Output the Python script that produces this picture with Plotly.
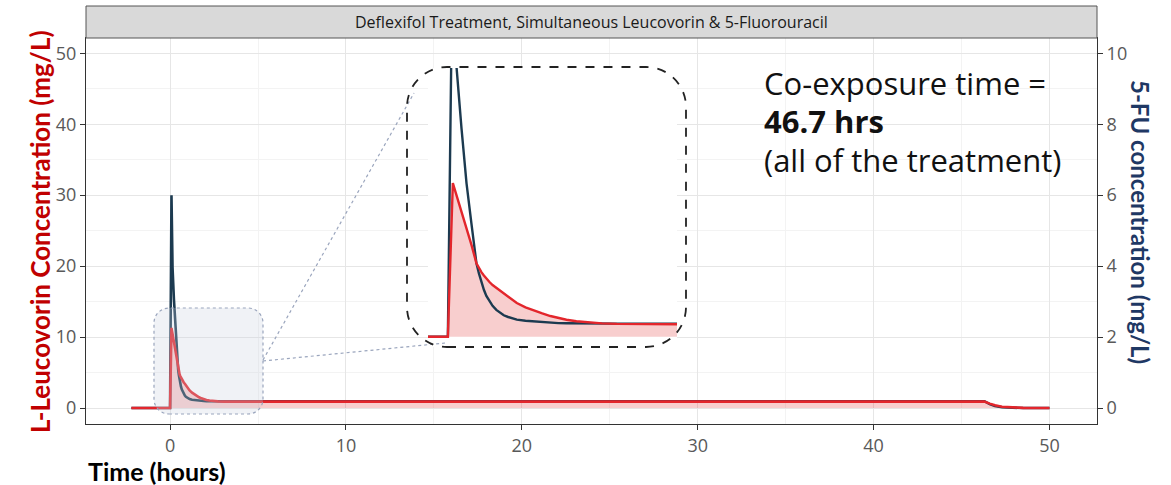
import plotly.graph_objects as go

# ---------------- data ----------------
time_h = [-2.2, 0.0, 0.08, 0.14, 0.22, 0.30, 0.38, 0.46,
          0.50, 0.54, 0.58, 0.62, 0.67, 0.72, 0.78, 0.84,
          0.90, 0.97, 1.04, 1.11, 1.25, 1.38, 1.52, 1.65,
          1.78, 1.91, 2.07, 2.24, 2.48, 2.72, 3.1, 3.69,
          10, 20, 30, 40, 46.3, 46.6, 46.9, 47.3,
          47.8, 48.5, 50.0]
leucovorin_mgL = [0, 0, 11.3, 10.4, 9.2, 8.1, 6.75, 5.4,
                  5.05, 4.75, 4.5, 4.27, 4.02, 3.8, 3.6, 3.43,
                  3.2, 2.95, 2.7, 2.48, 2.16, 1.93, 1.71, 1.52,
                  1.37, 1.25, 1.14, 1.06, 0.98, 0.94, 0.91, 0.9,
                  0.9, 0.9, 0.9, 0.9, 0.9, 0.62, 0.38, 0.18,
                  0.07, 0.02, 0.0]
fu_mgL = [0, 0, 6.0, 3.96, 3.06, 2.26, 1.66, 1.08,
          0.93, 0.8, 0.69, 0.6, 0.52, 0.455, 0.395, 0.35,
          0.315, 0.29, 0.268, 0.252, 0.235, 0.225, 0.215, 0.207,
          0.2, 0.197, 0.195, 0.193, 0.193, 0.193, 0.193, 0.193,
          0.193, 0.193, 0.193, 0.193, 0.193, 0.11, 0.055, 0.022,
          0.006, 0.0, 0.0]

x_ticks = [0, 10, 20, 30, 40, 50]
left_ticks = [0, 10, 20, 30, 40, 50]
right_ticks = [0, 2, 4, 6, 8, 10]

strip_title = "Deflexifol Treatment, Simultaneous Leucovorin & 5-Fluorouracil"
left_title = "L-Leucovorin Concentration (mg/L)"
right_title = "5-FU concentration (mg/L)"
x_title = "Time (hours)"
note_lines = ["Co-exposure time =", "<b>46.7 hrs</b>", "(all of the treatment)"]

# ---------------- styling ----------------
W, H = 1171, 485
ML, MR, MT, MB = 86, 74, 38, 61
PW, PH = W - ML - MR, H - MT - MB

RED = "#e3262c"
NAVY = "#1c3a50"
FILL = "rgba(228,60,60,0.25)"
GRID = "#e6e6e6"
MINOR = "#f3f3f3"
AX = "#333333"
TICKC = "#595959"

Y_LEFT = [-2.25, 52.15]
Y_RIGHT = [-0.45, 10.43]
INSET_X = [-0.32, 3.69]
INSET_Y = [-0.757, 19.76]
INSET_Y_FU = [-0.1514, 3.952]


def px(X):
    return (X - ML) / PW


def py(Y):
    return (H - MB - Y) / PH


def rr_path(X0, Y0, X1, Y1, r):
    k = 0.5523
    rx, ry = r / PW, r / PH
    xl, xr, yt, yb = px(X0), px(X1), py(Y0), py(Y1)
    return (f"M {xl+rx},{yb} L {xr-rx},{yb} "
            f"C {xr-rx+k*rx},{yb} {xr},{yb+ry-k*ry} {xr},{yb+ry} "
            f"L {xr},{yt-ry} "
            f"C {xr},{yt-ry+k*ry} {xr-rx+k*rx},{yt} {xr-rx},{yt} "
            f"L {xl+rx},{yt} "
            f"C {xl+rx-k*rx},{yt} {xl},{yt-ry+k*ry} {xl},{yt-ry} "
            f"L {xl},{yb+ry} "
            f"C {xl},{yb+ry-k*ry} {xl+rx-k*rx},{yb} {xl+rx},{yb} Z")


fig = go.Figure()

# main plot traces
fig.add_trace(go.Scatter(x=time_h, y=leucovorin_mgL, mode="lines", fill="tozeroy",
                         fillcolor=FILL, line=dict(width=0, color=RED),
                         hoverinfo="skip", showlegend=False, xaxis="x", yaxis="y"))
fig.add_trace(go.Scatter(x=time_h, y=fu_mgL, mode="lines", line=dict(color=NAVY, width=2.6),
                         showlegend=False, xaxis="x", yaxis="y2"))
fig.add_trace(go.Scatter(x=time_h, y=leucovorin_mgL, mode="lines", line=dict(color=RED, width=2.6),
                         showlegend=False, xaxis="x", yaxis="y5"))

# inset traces
fig.add_trace(go.Scatter(x=time_h, y=leucovorin_mgL, mode="lines", fill="tozeroy",
                         fillcolor=FILL, line=dict(width=0, color=RED),
                         hoverinfo="skip", showlegend=False, xaxis="x3", yaxis="y3"))
fig.add_trace(go.Scatter(x=time_h, y=fu_mgL, mode="lines", line=dict(color=NAVY, width=2.4),
                         showlegend=False, xaxis="x3", yaxis="y4"))
fig.add_trace(go.Scatter(x=time_h, y=leucovorin_mgL, mode="lines", line=dict(color=RED, width=2.4),
                         showlegend=False, xaxis="x3", yaxis="y6"))

tickfont = dict(family="Open Sans", size=18, color=TICKC)

fig.update_layout(
    width=W, height=H,
    margin=dict(l=ML, r=MR, t=MT, b=MB),
    paper_bgcolor="white", plot_bgcolor="white",
    xaxis=dict(range=[-4.78, 52.7], tickvals=x_ticks, showgrid=True, gridcolor=GRID,
               minor=dict(dtick=5, tick0=0, showgrid=True, gridcolor=MINOR),
               showline=True, mirror=True, linecolor=AX, linewidth=1,
               ticks="outside", ticklen=5, tickcolor=AX, tickfont=tickfont,
               zeroline=False),
    yaxis=dict(range=Y_LEFT, tickvals=left_ticks, showgrid=True, gridcolor=GRID,
               minor=dict(dtick=5, tick0=0, showgrid=True, gridcolor=MINOR),
               showline=True, mirror=True, linecolor=AX, linewidth=1,
               ticks="outside", ticklen=5, tickcolor=AX, tickfont=tickfont,
               zeroline=False),
    yaxis2=dict(range=Y_RIGHT, tickvals=right_ticks, overlaying="y", side="right",
                showgrid=False, zeroline=False, showline=True, linecolor=AX,
                ticks="outside", ticklen=5, tickcolor=AX, tickfont=tickfont),
    yaxis5=dict(range=Y_LEFT, overlaying="y", visible=False),
    xaxis3=dict(domain=[px(428), px(677)], range=INSET_X, anchor="y3",
                visible=False, fixedrange=True),
    yaxis3=dict(domain=[py(347), py(68)], range=INSET_Y, anchor="x3",
                visible=False, fixedrange=True),
    yaxis4=dict(range=INSET_Y_FU, overlaying="y3", anchor="x3",
                visible=False, fixedrange=True),
    yaxis6=dict(range=INSET_Y, overlaying="y3", anchor="x3",
                visible=False, fixedrange=True),
)

shapes = [
    # facet strip
    dict(type="rect", xref="paper", yref="paper", x0=0, x1=1, y0=1, y1=py(6),
         fillcolor="#d9d9d9", line=dict(color="#555555", width=1), layer="above"),
    # shaded zoom-source box
    dict(type="path", xref="paper", yref="paper", path=rr_path(154, 308, 263, 414, 15),
         fillcolor="rgba(200,208,224,0.28)", line=dict(color="#9aa5bd", width=1.2, dash="dot"),
         layer="above"),
    # connectors
    dict(type="line", xref="paper", yref="paper", x0=px(263), y0=py(360), x1=px(414), y1=py(93),
         line=dict(color="#9aa5bd", width=1.2, dash="dot")),
    dict(type="line", xref="paper", yref="paper", x0=px(263), y0=py(361), x1=px(445), y1=py(343),
         line=dict(color="#9aa5bd", width=1.2, dash="dot")),
    # inset border
    dict(type="path", xref="paper", yref="paper", path=rr_path(407, 67, 686, 347, 40),
         line=dict(color="#222222", width=1.8, dash="dash"), layer="above"),
]
fig.update_layout(shapes=shapes)

ann = [
    dict(text=strip_title, x=0.5, y=py(22), xref="paper", yref="paper", showarrow=False,
         xanchor="center", yanchor="middle", font=dict(family="Open Sans", size=16, color="#1a1a1a")),
    dict(text=f"<b>{left_title}</b>", x=px(40), y=py(232), xref="paper", yref="paper",
         showarrow=False, textangle=-90, xanchor="center", yanchor="middle",
         font=dict(family="Lato", size=26, color="#c00000")),
    dict(text=f"<b>{right_title}</b>", x=px(1141), y=py(222), xref="paper", yref="paper",
         showarrow=False, textangle=90, xanchor="center", yanchor="middle",
         font=dict(family="Lato", size=24, color="#1f3864")),
    dict(text=f"<b>{x_title}</b>", x=px(86), y=py(471), xref="paper", yref="paper",
         showarrow=False, xanchor="left", yanchor="middle",
         font=dict(family="Lato", size=25, color="#000000")),
]
for line, Y in zip(note_lines, [83, 121, 160]):
    ann.append(dict(text=line, x=px(762), y=py(Y), xref="paper", yref="paper", showarrow=False,
                    xanchor="left", yanchor="middle",
                    font=dict(family="Open Sans", size=31, color="#111111")))
fig.update_layout(annotations=ann)

fig.write_html("out.html", post_script="document.body.style.margin='0';",
               config={"displayModeBar": False})
